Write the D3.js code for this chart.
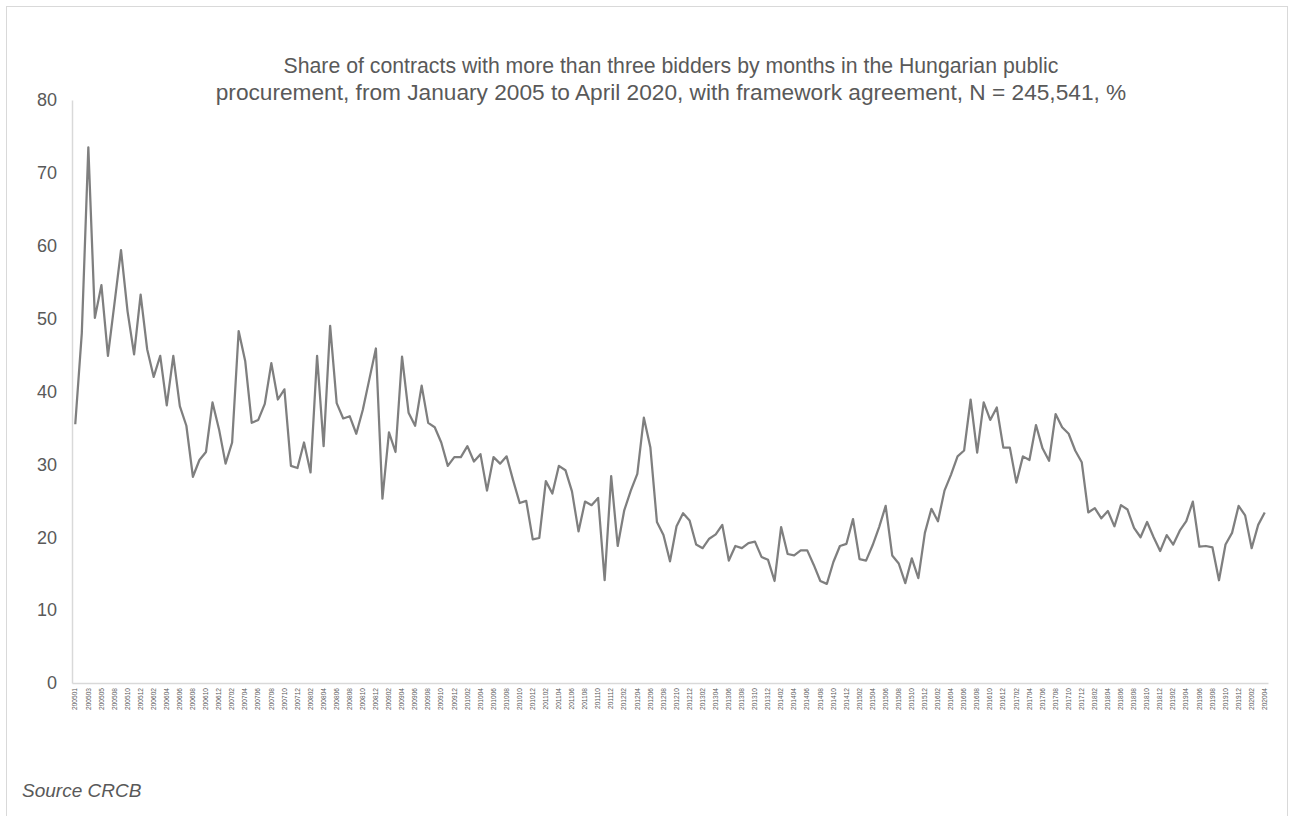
<!DOCTYPE html>
<html>
<head>
<meta charset="utf-8">
<script src="https://cdn.jsdelivr.net/npm/d3@7"></script>
<style>
  body { margin: 0; background: #fff; }
  svg { font-family: "Liberation Sans", Arial, sans-serif; }
</style>
</head>
<body>
<div class="chart"></div>
<script>
// months on the category axis (200507 is absent in the source)
var categories = [
  "200501","200502","200503","200504","200505","200506","200508","200509","200510","200511","200512",
  "200601","200602","200603","200604","200605","200606","200607","200608","200609","200610","200611","200612",
  "200701","200702","200703","200704","200705","200706","200707","200708","200709","200710","200711","200712",
  "200801","200802","200803","200804","200805","200806","200807","200808","200809","200810","200811","200812",
  "200901","200902","200903","200904","200905","200906","200907","200908","200909","200910","200911","200912",
  "201001","201002","201003","201004","201005","201006","201007","201008","201009","201010","201011","201012",
  "201101","201102","201103","201104","201105","201106","201107","201108","201109","201110","201111","201112",
  "201201","201202","201203","201204","201205","201206","201207","201208","201209","201210","201211","201212",
  "201301","201302","201303","201304","201305","201306","201307","201308","201309","201310","201311","201312",
  "201401","201402","201403","201404","201405","201406","201407","201408","201409","201410","201411","201412",
  "201501","201502","201503","201504","201505","201506","201507","201508","201509","201510","201511","201512",
  "201601","201602","201603","201604","201605","201606","201607","201608","201609","201610","201611","201612",
  "201701","201702","201703","201704","201705","201706","201707","201708","201709","201710","201711","201712",
  "201801","201802","201803","201804","201805","201806","201807","201808","201809","201810","201811","201812",
  "201901","201902","201903","201904","201905","201906","201907","201908","201909","201910","201911","201912",
  "202001","202002","202003","202004"
];

var shares = [
  35.5, 48.0, 73.5, 50.1, 54.6, 44.9, 52.1, 59.4, 51.0, 45.1, 53.3,
  45.8, 42.0, 44.9, 38.1, 44.9, 38.0, 35.3, 28.3, 30.6, 31.7, 38.5, 34.8,
  30.1, 33.0, 48.3, 44.2, 35.7, 36.1, 38.3, 43.9, 38.9, 40.3, 29.8, 29.5,
  33.0, 28.9, 44.9, 32.5, 49.0, 38.4, 36.3, 36.6, 34.2, 37.5, 41.7, 45.9,
  25.3, 34.4, 31.7, 44.8, 37.1, 35.3, 40.8, 35.7, 35.1, 33.0, 29.8, 31.0,
  31.0, 32.5, 30.4, 31.4, 26.4, 31.0, 30.1, 31.1, 27.8, 24.7, 25.0, 19.7,
  19.9, 27.7, 26.0, 29.8, 29.2, 26.3, 20.8, 24.9, 24.4, 25.4, 14.1, 28.4,
  18.8, 23.7, 26.4, 28.7, 36.4, 32.3, 22.1, 20.3, 16.7, 21.5, 23.3, 22.3,
  19.0, 18.5, 19.8, 20.4, 21.7, 16.8, 18.8, 18.5, 19.2, 19.4, 17.3, 16.9,
  14.0, 21.4, 17.7, 17.5, 18.2, 18.2, 16.2, 14.0, 13.6, 16.6, 18.8, 19.1,
  22.5, 17.0, 16.8, 18.9, 21.4, 24.3, 17.5, 16.4, 13.7, 17.1, 14.4, 20.6,
  23.9, 22.2, 26.4, 28.6, 31.1, 31.9, 38.9, 31.6, 38.5, 36.1, 37.8, 32.3,
  32.3, 27.5, 31.1, 30.6, 35.4, 32.2, 30.5, 36.9, 35.1, 34.2, 31.9, 30.3,
  23.4, 24.0, 22.6, 23.6, 21.5, 24.4, 23.8, 21.3, 20.0, 22.1, 20.0, 18.1,
  20.3, 19.0, 20.9, 22.2, 24.9, 18.7, 18.8, 18.6, 14.1, 19.0, 20.6, 24.3,
  23.0, 18.5, 21.7, 23.4
];

var yTicks = [0, 10, 20, 30, 40, 50, 60, 70, 80];

var titleLines = [
  "Share of contracts with more than three bidders by months in the Hungarian public",
  "procurement, from January 2005 to April 2020, with framework agreement, N = 245,541, %"
];

var width = 1292;
var height = 816;
var plot = {left: 72, right: 1268, top: 100, bottom: 683};
var textColor = "#595959";

var data = categories.map(function(c, i) { return {month: c, value: shares[i]}; });

var x = d3.scaleBand()
  .domain(categories)
  .range([plot.left, plot.right]);

var y = d3.scaleLinear()
  .domain([0, 80])
  .range([plot.bottom, plot.top]);

var line = d3.line()
  .x(function(d) { return x(d.month) + x.bandwidth() / 2; })
  .y(function(d) { return y(d.value); });

var svg = d3.select(".chart").append("svg")
  .attr("width", width)
  .attr("height", height);

// chart area frame
svg.append("rect")
  .attr("x", 6.5)
  .attr("y", 6.5)
  .attr("width", 1281)
  .attr("height", 830)
  .attr("fill", "#fff")
  .attr("stroke", "#d9d9d9");

// title, fitted to the width of the original lines
var titleWidths = [775, 911];
titleLines.forEach(function(t, i) {
  var txt = svg.append("text")
    .attr("x", 671)
    .attr("y", 73 + i * 27)
    .attr("text-anchor", "middle")
    .attr("fill", textColor)
    .style("font-size", "20px")
    .text(t);
  var w = txt.node().getComputedTextLength();
  txt.style("font-size", (20 * titleWidths[i] / w) + "px");
});

var yAxis = d3.axisLeft(y)
  .tickValues(yTicks)
  .tickSize(0)
  .tickPadding(15);

var gY = svg.append("g")
  .attr("transform", "translate(" + plot.left + ",0)")
  .call(yAxis);
gY.select(".domain").attr("stroke", "#d9d9d9").attr("stroke-width", 1.5);
gY.selectAll("text")
  .attr("fill", textColor)
  .style("font-size", "18px")
  .style("font-family", "Liberation Sans, Arial, sans-serif");

var xAxis = d3.axisBottom(x)
  .tickValues(categories.filter(function(d, i) { return i % 2 === 0; }))
  .tickSize(0)
  .tickSizeOuter(0);

var gX = svg.append("g")
  .attr("transform", "translate(0," + plot.bottom + ")")
  .call(xAxis);
gX.select(".domain").attr("stroke", "#d9d9d9").attr("stroke-width", 1.5);
gX.selectAll("text")
  .attr("fill", textColor)
  .attr("transform", "rotate(-90)")
  .attr("text-anchor", "end")
  .attr("x", -5)
  .attr("y", 0)
  .attr("dy", "0.33em")
  .style("font-size", "6.6px")
  .style("font-family", "Liberation Sans, Arial, sans-serif");

svg.append("path")
  .datum(data)
  .attr("d", line)
  .attr("fill", "none")
  .attr("stroke", "#7f7f7f")
  .attr("stroke-width", 2.25)
  .attr("stroke-linejoin", "round");

svg.append("text")
  .attr("x", 22)
  .attr("y", 797)
  .attr("fill", textColor)
  .style("font-size", "19px")
  .style("font-style", "italic")
  .text("Source CRCB");
</script>
</body>
</html>
